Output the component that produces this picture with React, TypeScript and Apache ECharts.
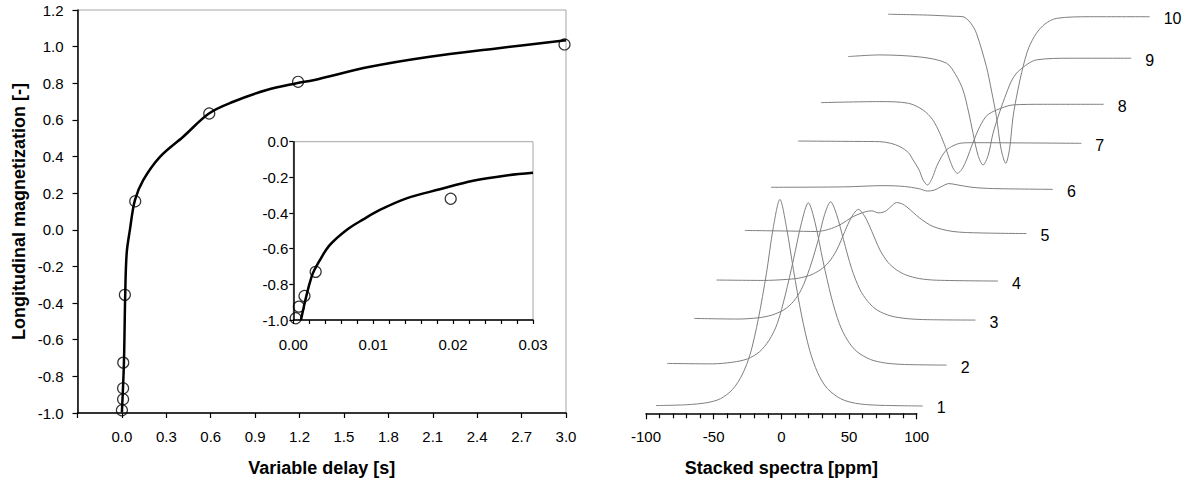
import React, { useEffect, useRef } from "react";
import * as echarts from "echarts";

const FONT = "'Liberation Sans', Arial, Helvetica, sans-serif";

// ---- Left chart: inversion recovery (main view) ----
const mainCurveDelay = [0.0, 0.0135, 0.022, 0.032, 0.054, 0.088, 0.144, 0.257, 0.414, 0.588, 0.752, 0.978, 1.18, 1.293, 1.676, 2.08, 2.53, 3.0];
const mainCurveMag = [-0.995, -0.73, -0.367, -0.13, 0.0, 0.162, 0.271, 0.398, 0.508, 0.635, 0.699, 0.763, 0.8, 0.817, 0.89, 0.945, 0.99, 1.035];
const mainPointDelay = [0.0, 0.008, 0.008, 0.009, 0.02, 0.09, 0.59, 1.19, 2.99];
const mainPointMag = [-0.985, -0.925, -0.865, -0.725, -0.355, 0.156, 0.635, 0.808, 1.012];

// ---- Left chart: inset (first 30 ms) ----
const insetCurveDelay = [0.00096, 0.00229, 0.00333, 0.00458, 0.00667, 0.00875, 0.01083, 0.01417, 0.01833, 0.0225, 0.02667, 0.03];
const insetCurveMag = [-1.0, -0.757, -0.664, -0.579, -0.495, -0.436, -0.383, -0.318, -0.267, -0.219, -0.189, -0.174];
const insetPointDelay = [0.0003, 0.0007, 0.0014, 0.0028, 0.0197];
const insetPointMag = [-0.99, -0.925, -0.865, -0.73, -0.32];

// ---- Right chart: stacked spectra ----
const traceNames = ["1", "2", "3", "4", "5", "6", "7", "8", "9", "10"];
const traceShift = [0, 19, 38, 57, 77, 96, 116, 134, 154, 168]; // ppm offset of each stacked trace
const traceBaseline = [0.034, 0.232, 0.45, 0.639, 0.869, 1.083, 1.306, 1.495, 1.718, 1.919]; // vertical offset

const trace1 = [[-92.6, 0.002], [-70, 0.006], [-55, 0.016], [-45, 0.035], [-36, 0.08], [-29, 0.15], [-23, 0.25], [-17, 0.42], [-11, 0.64], [-6, 0.86], [-1, 1.0], [4, 0.86], [9, 0.66], [15, 0.44], [21, 0.27], [27, 0.16], [34, 0.085], [44, 0.035], [55, 0.013], [70, 0.004], [104.7, 0]];
const trace2 = [[-103.3, 0.008], [-70, 0.006], [-55, 0.014], [-44, 0.03], [-35, 0.065], [-28, 0.12], [-22, 0.2], [-16, 0.34], [-10, 0.51], [-4, 0.69], [1, 0.786], [6, 0.69], [12, 0.5], [18, 0.33], [24, 0.2], [30, 0.12], [37, 0.065], [47, 0.027], [58, 0.01], [72, 0.003], [103.3, 0]];
const trace3 = [[-102.5, 0.008], [-70, 0.005], [-55, 0.011], [-45, 0.024], [-36, 0.05], [-29, 0.09], [-23, 0.15], [-17, 0.25], [-11, 0.38], [-6, 0.51], [-1.5, 0.573], [3, 0.51], [8, 0.39], [14, 0.25], [20, 0.15], [26, 0.09], [33, 0.048], [43, 0.02], [55, 0.007], [70, 0.002], [105.6, 0]];
const trace4 = [[-104.8, 0.005], [-70, 0.003], [-55, 0.007], [-44, 0.014], [-35, 0.03], [-28, 0.055], [-22, 0.09], [-16, 0.15], [-10, 0.24], [-5, 0.31], [0, 0.347], [5, 0.31], [10, 0.24], [16, 0.15], [22, 0.09], [28, 0.055], [35, 0.03], [45, 0.012], [58, 0.004], [103.3, 0]];
const trace5 = [[-103.9, 0.015], [-70, 0.012], [-50.9, 0.01], [-42, 0.02], [-33.7, 0.042], [-23.8, 0.082], [-15, 0.105], [-10, 0.11], [-5, 0.1], [0, 0.108], [4, 0.13], [8.2, 0.15], [12, 0.145], [16, 0.128], [25.4, 0.075], [35.3, 0.034], [50, 0.01], [70, 0.003], [104.3, 0]];
const trace6 = [[-103.6, 0.01], [-50, 0.012], [-20, 0.018], [-5, 0.014], [6, 0.003], [12, -0.008], [17, -0.004], [22, 0.012], [28, 0.028], [34, 0.022], [45, 0.01], [60, 0.004], [104.9, 0]];
const trace7 = [[-103.5, 0.011], [-60, 0.009], [-43.1, 0.008], [-35, 0.0], [-28.3, -0.016], [-22, -0.045], [-18.5, -0.081], [-14, -0.13], [-11.1, -0.178], [-7.9, -0.202], [-4.5, -0.17], [-1.2, -0.113], [2.5, -0.065], [6.2, -0.032], [11, -0.012], [16, 0.0], [25.8, 0.003], [60, 0.002], [105.9, 0]];
const trace8 = [[-104.7, 0.008], [-61.1, 0.013], [-40, 0.005], [-29.1, -0.028], [-22, -0.075], [-16.8, -0.14], [-12.5, -0.21], [-9.4, -0.27], [-6.5, -0.315], [-3.7, -0.334], [-0.5, -0.315], [2.9, -0.27], [7.5, -0.19], [12.8, -0.108], [18, -0.055], [25.1, -0.028], [37.4, -0.003], [60, 0.0], [104.4, 0]];
const trace9 = [[-104.5, 0.008], [-81.1, 0.016], [-50, 0.005], [-31.8, -0.024], [-25, -0.08], [-19.6, -0.154], [-15.5, -0.26], [-12.2, -0.363], [-8.5, -0.47], [-4.8, -0.517], [-1, -0.47], [2.6, -0.363], [7.5, -0.26], [12.5, -0.169], [17, -0.1], [22.3, -0.057], [34.7, -0.008], [60, 0.0], [104.8, 0]];
const trace10 = [[-89, 0.012], [-60, 0.008], [-40, 0.002], [-33.6, 0.0], [-28, -0.03], [-23.7, -0.08], [-16.3, -0.242], [-12.5, -0.36], [-8.9, -0.484], [-5.5, -0.64], [-2, -0.71], [0.8, -0.64], [3.4, -0.484], [6.8, -0.36], [10.8, -0.242], [15, -0.15], [20.7, -0.08], [27, -0.035], [35.4, -0.008], [60, 0.0], [104.4, 0]];
const traces = [trace1, trace2, trace3, trace4, trace5, trace6, trace7, trace8, trace9, trace10];

const zip = (a: number[], b: number[]) => a.map((v, i) => [v, b[i]]);

const axisLine = { show: true, onZero: false, lineStyle: { color: "#000", width: 1.5 } };
const tick = (len: number) => ({ show: true, inside: false, length: len, lineStyle: { color: "#000", width: 1.2 } });
const labelStyle = { color: "#000", fontSize: 15, fontFamily: FONT };
const nameStyle = { color: "#000", fontSize: 18, fontWeight: "bold" as const, fontFamily: FONT };

function buildOption(): any {
  const circle = {
    type: "scatter",
    symbol: "circle",
    symbolSize: 11,
    itemStyle: { color: "rgba(255,255,255,0)", borderColor: "#000", borderWidth: 1.2 },
    z: 5,
    silent: true,
  };
  const curve = {
    type: "line",
    showSymbol: false,
    smooth: 0.35,
    lineStyle: { color: "#000", width: 2.5 },
    silent: true,
  };

  const traceSeries = traces.map((pts, k) => ({
    type: "line",
    name: traceNames[k],
    xAxisIndex: 3,
    yAxisIndex: 3,
    data: pts.map(([p, v]) => [p + traceShift[k], v + traceBaseline[k]]),
    showSymbol: false,
    smooth: 0.3,
    silent: true,
    lineStyle: { color: "#7f7f7f", width: 1 },
    endLabel: {
      show: true,
      formatter: "{a}",
      distance: 14,
      offset: [0, 2],
      color: "#000",
      fontSize: 16,
      fontFamily: FONT,
    },
  }));

  return {
    animation: false,
    backgroundColor: "#fff",
    textStyle: { fontFamily: FONT },
    grid: [
      { left: 77.5, top: 10, width: 488.5, height: 403, show: true, borderColor: "#a6a6a6", borderWidth: 1, backgroundColor: "rgba(0,0,0,0)", containLabel: false },
      { left: 293.3, top: 141.7, width: 239.7, height: 178.3, show: true, borderColor: "#a6a6a6", borderWidth: 1, backgroundColor: "#fff", containLabel: false },
      { left: 646, top: 300, width: 270.7, height: 113.3, containLabel: false },
      { left: 646, top: 0, width: 541.4, height: 413, containLabel: false },
    ],
    xAxis: [
      {
        gridIndex: 0, type: "value", min: -0.3, max: 3.0, interval: 0.3,
        axisLine, axisTick: tick(5), splitLine: { show: false },
        axisLabel: { ...labelStyle, margin: 16, showMinLabel: true, showMaxLabel: true, formatter: (v: number) => (v < -0.01 ? "" : v.toFixed(1)) },
        name: "Variable delay [s]", nameLocation: "middle", nameGap: 46, nameTextStyle: nameStyle,
      },
      {
        gridIndex: 1, type: "value", min: 0, max: 0.03, interval: 0.002,
        axisLine, axisTick: tick(4), splitLine: { show: false },
        axisLabel: {
          ...labelStyle, margin: 17, showMinLabel: true, showMaxLabel: true,
          formatter: (v: number) => (Math.abs(v * 100 - Math.round(v * 100)) < 1e-6 ? v.toFixed(2) : ""),
        },
      },
      {
        gridIndex: 2, type: "value", min: -100, max: 100, interval: 50,
        axisLine, axisTick: tick(6), splitLine: { show: false },
        minorTick: { show: true, splitNumber: 5, length: 5, lineStyle: { color: "#000", width: 1.2 } },
        axisLabel: { ...labelStyle, margin: 16, showMinLabel: true, showMaxLabel: true, formatter: (v: number) => String(Math.round(v)) },
        name: "Stacked spectra [ppm]", nameLocation: "middle", nameGap: 46, nameTextStyle: nameStyle,
      },
      { gridIndex: 3, type: "value", min: -100, max: 300, show: false },
    ],
    yAxis: [
      {
        gridIndex: 0, type: "value", min: -1.0, max: 1.2, interval: 0.2,
        axisLine, axisTick: tick(5), splitLine: { show: false },
        axisLabel: { ...labelStyle, margin: 14, showMinLabel: true, showMaxLabel: true, formatter: (v: number) => v.toFixed(1) },
        name: "Longitudinal magnetization [-]", nameLocation: "middle", nameGap: 50, nameRotate: 90, nameTextStyle: nameStyle,
      },
      {
        gridIndex: 1, type: "value", min: -1.0, max: 0.0, interval: 0.2,
        axisLine, axisTick: tick(4), splitLine: { show: false },
        axisLabel: { ...labelStyle, margin: 5, showMinLabel: true, showMaxLabel: true, formatter: (v: number) => v.toFixed(1) },
      },
      { gridIndex: 2, type: "value", min: 0, max: 1, show: false },
      { gridIndex: 3, type: "value", min: 0, max: 2, show: false },
    ],
    series: [
      { ...curve, xAxisIndex: 0, yAxisIndex: 0, data: zip(mainCurveDelay, mainCurveMag) },
      { ...circle, xAxisIndex: 0, yAxisIndex: 0, data: zip(mainPointDelay, mainPointMag) },
      { ...curve, xAxisIndex: 1, yAxisIndex: 1, data: zip(insetCurveDelay, insetCurveMag), z: 3 },
      { ...circle, xAxisIndex: 1, yAxisIndex: 1, data: zip(insetPointDelay, insetPointMag), z: 6 },
      ...traceSeries,
    ],
  };
}

export default function App() {
  const ref = useRef<HTMLDivElement>(null);
  useEffect(() => {
    if (!ref.current) return;
    const chart = echarts.init(ref.current, null, { renderer: "svg" });
    chart.setOption(buildOption());
    return () => chart.dispose();
  }, []);
  return (
    <div
      ref={ref}
      style={{ position: "fixed", left: 0, top: 0, width: 1187, height: 483, background: "#fff" }}
    />
  );
}
